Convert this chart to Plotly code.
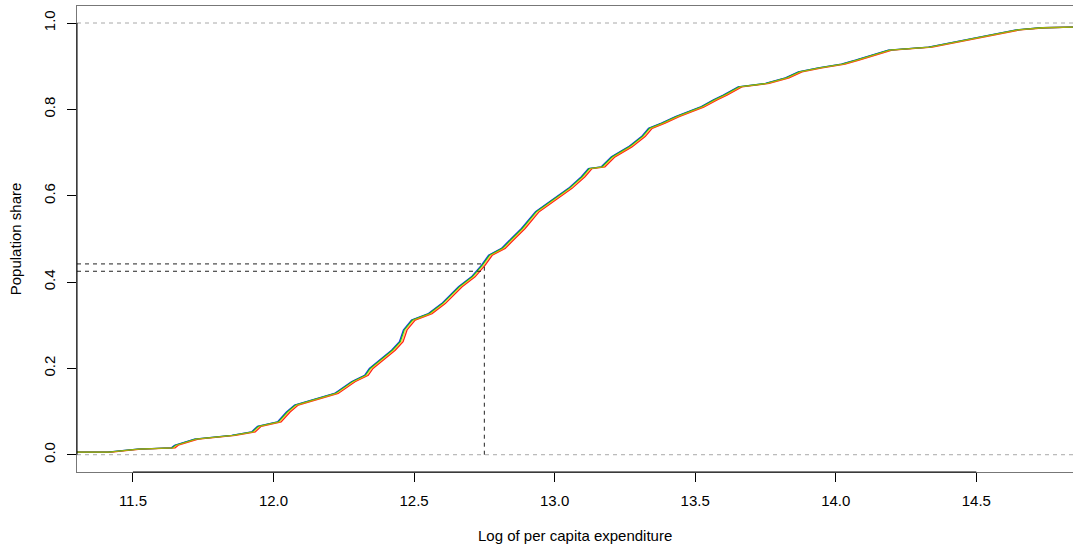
import plotly.graph_objects as go

# Population share levels (shared quantile levels of the empirical CDFs)
population_share = [0.006, 0.006, 0.010, 0.013, 0.016, 0.022, 0.036, 0.041, 0.045, 0.053,
                    0.066, 0.076, 0.099, 0.115, 0.130, 0.142, 0.169, 0.184, 0.200, 0.223,
                    0.242, 0.262, 0.289, 0.312, 0.327, 0.350, 0.389, 0.412, 0.439, 0.462,
                    0.478, 0.501, 0.524, 0.563, 0.590, 0.617, 0.644, 0.663, 0.667, 0.690,
                    0.713, 0.737, 0.756, 0.768, 0.783, 0.794, 0.805, 0.822, 0.833, 0.852,
                    0.860, 0.873, 0.887, 0.896, 0.905, 0.914, 0.926, 0.937, 0.944, 0.953,
                    0.963, 0.972, 0.984, 0.989, 0.991]

# Log of per capita expenditure at those levels, one list per series
log_exp_blue = [11.298, 11.410, 11.470, 11.516, 11.637, 11.648, 11.719, 11.790, 11.851, 11.922,
                11.943, 12.014, 12.046, 12.075, 12.157, 12.217, 12.277, 12.324, 12.341, 12.384,
                12.420, 12.448, 12.462, 12.491, 12.551, 12.598, 12.658, 12.704, 12.740, 12.765,
                12.811, 12.846, 12.882, 12.932, 12.989, 13.049, 13.095, 13.120, 13.166, 13.202,
                13.262, 13.309, 13.334, 13.380, 13.430, 13.476, 13.517, 13.565, 13.600, 13.653,
                13.750, 13.821, 13.867, 13.938, 14.020, 14.070, 14.127, 14.187, 14.330, 14.401,
                14.472, 14.543, 14.642, 14.731, 14.900]
log_exp_green = [11.298, 11.413, 11.473, 11.519, 11.640, 11.651, 11.722, 11.793, 11.854, 11.925,
                 11.946, 12.017, 12.049, 12.078, 12.160, 12.220, 12.280, 12.327, 12.344, 12.387,
                 12.423, 12.451, 12.465, 12.494, 12.554, 12.601, 12.661, 12.707, 12.743, 12.768,
                 12.814, 12.849, 12.885, 12.935, 12.992, 13.052, 13.098, 13.123, 13.169, 13.205,
                 13.265, 13.312, 13.337, 13.383, 13.433, 13.479, 13.520, 13.568, 13.603, 13.656,
                 13.753, 13.824, 13.870, 13.941, 14.023, 14.073, 14.130, 14.190, 14.333, 14.404,
                 14.475, 14.546, 14.645, 14.734, 14.900]
log_exp_red = [11.298, 11.423, 11.483, 11.529, 11.650, 11.661, 11.732, 11.803, 11.864, 11.935,
               11.956, 12.027, 12.059, 12.088, 12.170, 12.230, 12.290, 12.337, 12.354, 12.397,
               12.433, 12.461, 12.475, 12.504, 12.564, 12.611, 12.671, 12.717, 12.753, 12.778,
               12.824, 12.859, 12.895, 12.945, 13.002, 13.062, 13.108, 13.133, 13.179, 13.215,
               13.275, 13.322, 13.347, 13.393, 13.443, 13.489, 13.530, 13.578, 13.613, 13.666,
               13.763, 13.834, 13.880, 13.951, 14.033, 14.083, 14.140, 14.200, 14.343, 14.414,
               14.485, 14.556, 14.655, 14.744, 14.900]
log_exp_orange = [11.298, 11.418, 11.478, 11.524, 11.645, 11.656, 11.727, 11.798, 11.859, 11.930,
                  11.951, 12.022, 12.054, 12.083, 12.165, 12.225, 12.285, 12.332, 12.349, 12.392,
                  12.428, 12.456, 12.470, 12.499, 12.559, 12.606, 12.666, 12.712, 12.748, 12.773,
                  12.819, 12.854, 12.890, 12.940, 12.997, 13.057, 13.103, 13.128, 13.174, 13.210,
                  13.270, 13.317, 13.342, 13.388, 13.438, 13.484, 13.525, 13.573, 13.608, 13.661,
                  13.758, 13.829, 13.875, 13.946, 14.028, 14.078, 14.135, 14.195, 14.338, 14.409,
                  14.480, 14.551, 14.650, 14.739, 14.900]

# Reference (poverty line) markers
poverty_line = 12.75
share_upper = 0.442
share_lower = 0.425

x_range = [11.301, 14.844]
y_range = [-0.04, 1.0394]
x_ticks = [11.5, 12.0, 12.5, 13.0, 13.5, 14.0, 14.5]
x_tick_labels = ["11.5", "12.0", "12.5", "13.0", "13.5", "14.0", "14.5"]
y_ticks = [0.0, 0.2, 0.4, 0.6, 0.8, 1.0]
y_tick_labels = ["0.0", "0.2", "0.4", "0.6", "0.8", "1.0"]

FONT = "Liberation Sans, Arial, sans-serif"

fig = go.Figure()

series = [
    (log_exp_red, "rgba(255,0,0,0.9)"),
    (log_exp_blue, "rgba(0,0,255,0.9)"),
    (log_exp_green, "rgba(0,210,0,0.9)"),
    (log_exp_orange, "rgba(255,170,0,0.65)"),
]
for xs, col in series:
    fig.add_trace(go.Scatter(x=xs, y=population_share, mode="lines",
                             line=dict(color=col, width=1.3), hoverinfo="skip",
                             showlegend=False))

gray_dash = dict(color="#A8A8A8", width=1, dash="4px,4px")
black_dash = dict(color="#222222", width=1, dash="4px,4px")
shapes = [
    dict(type="line", xref="paper", yref="y", x0=0, x1=1, y0=0, y1=0, line=gray_dash, layer="below"),
    dict(type="line", xref="paper", yref="y", x0=0, x1=1, y0=1, y1=1, line=gray_dash, layer="below"),
    dict(type="line", xref="x", yref="y", x0=x_range[0], x1=poverty_line,
         y0=share_upper, y1=share_upper, line=black_dash),
    dict(type="line", xref="x", yref="y", x0=x_range[0], x1=poverty_line,
         y0=share_lower, y1=share_lower, line=black_dash),
    dict(type="line", xref="x", yref="y", x0=poverty_line, x1=poverty_line,
         y0=0, y1=share_upper, line=black_dash),
    # R-style axis lines spanning first to last tick
    dict(type="line", xref="x", yref="paper", x0=x_ticks[0], x1=x_ticks[-1], y0=0, y1=0,
         line=dict(color="black", width=1)),
    dict(type="line", xref="paper", yref="y", x0=0, x1=0, y0=y_ticks[0], y1=y_ticks[-1],
         line=dict(color="black", width=1)),
]

fig.update_layout(
    width=1073, height=548,
    margin=dict(l=77, r=0, t=6, b=76, pad=0),
    paper_bgcolor="white", plot_bgcolor="white",
    font=dict(family=FONT, size=15, color="black"),
    showlegend=False,
    shapes=shapes,
    xaxis=dict(range=x_range, tickvals=x_ticks, ticktext=x_tick_labels,
               ticks="outside", ticklen=9, tickcolor="black", tickwidth=1,
               showgrid=False, zeroline=False, showline=True, linecolor="#777777",
               linewidth=1, mirror=True, ticklabelstandoff=6,
               tickfont=dict(family=FONT, size=15)),
    yaxis=dict(range=y_range, tickvals=y_ticks, ticktext=y_tick_labels,
               ticks="outside", ticklen=9, tickcolor="black", tickwidth=1,
               tickangle=-90, showgrid=False, zeroline=False, showline=True,
               linecolor="#777777", linewidth=1, mirror=True, ticklabelstandoff=6,
               tickfont=dict(family=FONT, size=15)),
    annotations=[
        dict(text="Log of per capita expenditure", xref="paper", yref="paper",
             x=0.5, y=-0.136, xanchor="center", yanchor="middle", showarrow=False,
             font=dict(family=FONT, size=15)),
        dict(text="Population share", xref="paper", yref="paper",
             x=-0.062, y=0.5, xanchor="center", yanchor="middle", textangle=-90,
             showarrow=False, font=dict(family=FONT, size=15)),
    ],
)

fig.write_html("out.html", config={"displayModeBar": False},
               post_script="document.body.style.margin='0';document.body.style.padding='0';")
